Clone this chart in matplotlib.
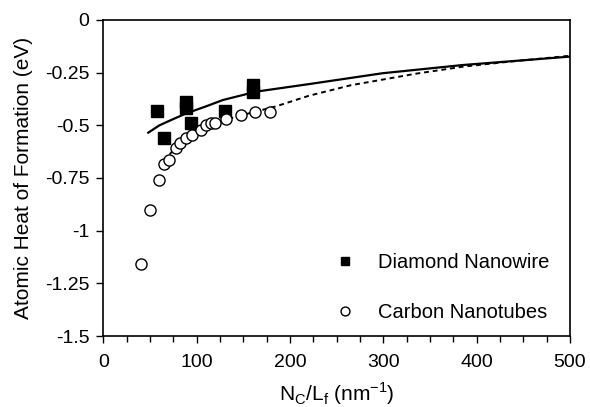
import numpy as np
import matplotlib
matplotlib.use('Agg')
import matplotlib.pyplot as plt
from matplotlib.ticker import MultipleLocator, FuncFormatter

# ---- data ----
nw_x = [57, 65, 88, 88, 94, 130, 160, 160]
nw_y = [-0.43, -0.56, -0.39, -0.42, -0.49, -0.43, -0.31, -0.34]

nt_x = [40, 50, 59, 65, 70, 78, 82, 88, 95, 105, 110, 115, 120, 131, 147, 162, 178]
nt_y = [-1.16, -0.90, -0.76, -0.685, -0.665, -0.61, -0.585, -0.56, -0.545, -0.52,
        -0.50, -0.49, -0.49, -0.47, -0.45, -0.435, -0.435]

fit_nw_x = [48, 60, 75, 89, 110, 128, 164, 221, 299, 385, 500]
fit_nw_y = [-0.535, -0.50, -0.47, -0.443, -0.41, -0.38, -0.34, -0.304, -0.253, -0.214, -0.174]

fit_nt_x = [65, 80, 100, 125, 150, 185, 220, 265, 335, 385, 435, 500]
fit_nt_y = [-0.67, -0.59, -0.53, -0.48, -0.45, -0.41, -0.36, -0.31, -0.255, -0.222, -0.198, -0.17]

plt.rcParams['font.family'] = ['Liberation Sans', 'DejaVu Sans']
plt.rcParams['font.size'] = 14
plt.rcParams['axes.unicode_minus'] = False

fig = plt.figure(figsize=(5.9, 4.07), dpi=100)
ax = fig.add_axes([0.1754, 0.1744, 0.7906, 0.7766])

ax.plot(fit_nw_x, fit_nw_y, color='black', lw=1.6, zorder=2)
ax.plot(fit_nt_x, fit_nt_y, color='black', lw=1.4, ls=(0, (2.5, 2)), zorder=2)
ax.plot(nw_x, nw_y, ls='none', marker='s', ms=8, color='black',
        label='Diamond Nanowire', zorder=3)
ax.plot(nt_x, nt_y, ls='none', marker='o', ms=8, mfc='white', mec='black',
        mew=1.0, label='Carbon Nanotubes', zorder=3)

ax.set_xlim(0, 500)
ax.set_ylim(-1.5, 0)
ax.xaxis.set_major_locator(MultipleLocator(100))
ax.xaxis.set_minor_locator(MultipleLocator(25))
ax.yaxis.set_major_locator(MultipleLocator(0.25))
ax.yaxis.set_major_formatter(FuncFormatter(lambda v, p: '%g' % v))
ax.tick_params(axis='both', which='major', direction='out', length=5, width=1,
               pad=5, labelsize=14)
ax.tick_params(axis='x', which='major', pad=8)
ax.tick_params(axis='x', which='minor', direction='out', length=4, width=1)

for s in ax.spines.values():
    s.set_linewidth(1.2)

ax.set_xlabel('N$_\\mathregular{C}$/L$_\\mathregular{f}$ (nm$^\\mathregular{-1}$)',
              fontsize=15, labelpad=7)
ax.set_ylabel('Atomic Heat of Formation (eV)', fontsize=15, labelpad=9)

ax.legend(loc='lower right', frameon=False, markerscale=0.8, handlelength=1.2,
          handletextpad=1.0, labelspacing=1.5, fontsize=14.5,
          bbox_to_anchor=(0.994, -0.012))

fig.savefig('out.png', dpi=100)
